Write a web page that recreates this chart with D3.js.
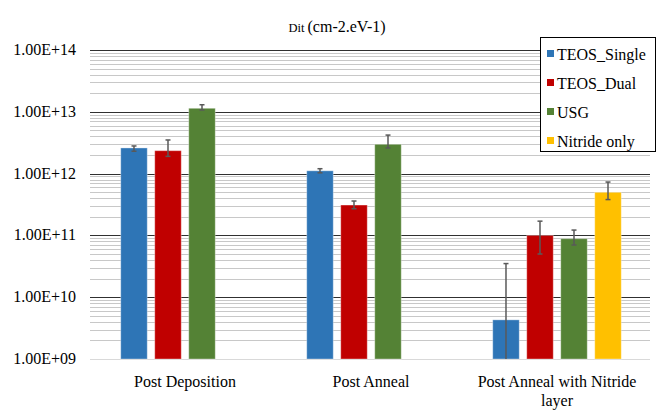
<!DOCTYPE html>
<html>
<head>
<meta charset="utf-8">
<script src="https://cdn.jsdelivr.net/npm/d3@7"></script>
</head>
<body style="margin:0">
<svg id="chart" width="666" height="416"></svg>
<script>
// Dit per process step, log axis
const categories = ["Post Deposition", "Post Anneal", "Post Anneal with Nitride layer"];
const series = ["TEOS_Single", "TEOS_Dual", "USG", "Nitride only"];
const colors = ["#2E75B6", "#C00000", "#548235", "#FFC000"];

const teosSingle = [2.6e12, 1.11e12, 4.3e9];
const teosDual = [2.35e12, 3.1e11, 1.0e11];
const usg = [1.14e13, 2.98e12, 8.85e10];
const nitrideOnly = [null, null, 4.98e11];

// error bar ends (upper / lower)
const errHigh = [
  [2.8e12, 1.2e12, 3.5e10],
  [3.5e12, 3.6e11, 1.7e11],
  [1.3e13, 4.2e12, 1.22e11],
  [null, null, 7.3e11]
];
const errLow = [
  [2.3e12, 1.03e12, 0],
  [1.9e12, 2.7e11, 5.0e10],
  [1.07e13, 2.6e12, 7.0e10],
  [null, null, 3.8e11]
];

const yTicks = [1e9, 1e10, 1e11, 1e12, 1e13, 1e14];

const values = [teosSingle, teosDual, usg, nitrideOnly];
const bars = [];
series.forEach((s, si) => {
  categories.forEach((c, ci) => {
    if (values[si][ci] == null) return;
    bars.push({ series: s, si, cat: c, value: values[si][ci], hi: errHigh[si][ci], lo: errLow[si][ci] });
  });
});

const svg = d3.select("#chart");
const plotLeft = 92, plotRight = 650, plotTop = 50, plotBottom = 359;

const y = d3.scaleLog().domain([1e9, 1e14]).range([plotBottom, plotTop]);
const x0 = d3.scaleBand().domain(categories).range([plotLeft, plotRight]);
const x1 = d3.scaleBand().domain(series).range([0, x0.bandwidth()])
  .paddingInner(0.22).paddingOuter(0.845);

// serif text, same as in the original office chart
function serif(sel, size) {
  sel.style("font-family", '"Liberation Serif"').style("font-size", size || "16px");
}

// gridlines
const minor = [];
for (let d = 9; d < 14; d++) {
  for (let k = 2; k <= 9; k++) minor.push(k * Math.pow(10, d));
}
svg.append("g").selectAll("line")
  .data(minor)
  .enter().append("line")
    .attr("x1", plotLeft - 2).attr("x2", plotRight)
    .attr("y1", d => Math.round(y(d)) + 0.5)
    .attr("y2", d => Math.round(y(d)) + 0.5)
    .attr("stroke", "#c8c8c8")
    .attr("stroke-width", 1);

svg.append("g").selectAll("line")
  .data(yTicks)
  .enter().append("line")
    .attr("x1", plotLeft - 2).attr("x2", plotRight)
    .attr("y1", d => Math.round(y(d)) + 0.5)
    .attr("y2", d => Math.round(y(d)) + 0.5)
    .attr("stroke", d => d === 1e9 ? "#d9d9d9" : "#303030")
    .attr("stroke-width", 1);

// y labels
svg.append("g").selectAll("text")
  .data(yTicks)
  .enter().append("text")
    .call(serif)
    .attr("x", 76)
    .attr("y", d => y(d) + 5)
    .attr("text-anchor", "end")
    .attr("fill", "#000")
    .text(d => {
      const e = Math.round(Math.log10(d));
      return "1.00E+" + (e < 10 ? "0" + e : e);
    });

// bars
svg.append("g").selectAll("rect")
  .data(bars)
  .enter().append("rect")
    .attr("x", d => x0(d.cat) + x1(d.series))
    .attr("y", d => y(d.value))
    .attr("width", x1.bandwidth())
    .attr("height", d => y(1e9) - y(d.value))
    .attr("fill", d => colors[d.si])
    .attr("stroke", "#ffffff")
    .attr("stroke-opacity", 0.35)
    .attr("stroke-width", 1);

// error bars
const eb = svg.append("g").selectAll("g")
  .data(bars)
  .enter().append("g")
    .attr("transform", d => `translate(${x0(d.cat) + x1(d.series) + x1.bandwidth() / 2},0)`);
eb.append("line")
  .attr("y1", d => y(d.hi))
  .attr("y2", d => y(Math.max(d.lo, 1e9)))
  .attr("stroke", "#595959").attr("stroke-width", 1.5);
eb.append("line")
  .attr("x1", -2.5).attr("x2", 2.5)
  .attr("y1", d => y(d.hi)).attr("y2", d => y(d.hi))
  .attr("stroke", "#595959").attr("stroke-width", 1.5);
eb.filter(d => d.lo > 1e9).append("line")
  .attr("x1", -2.5).attr("x2", 2.5)
  .attr("y1", d => y(d.lo)).attr("y2", d => y(d.lo))
  .attr("stroke", "#595959").attr("stroke-width", 1.5);

// x labels (wrapped)
function wrap(textSel, width) {
  textSel.each(function () {
    const text = d3.select(this);
    const words = text.text().split(/\s+/);
    const xx = text.attr("x"), yy = +text.attr("y");
    text.text(null);
    let line = [], lineNo = 0;
    let tspan = text.append("tspan").attr("x", xx).attr("y", yy);
    words.forEach(w => {
      line.push(w);
      tspan.text(line.join(" "));
      if (tspan.node().getComputedTextLength() > width && line.length > 1) {
        line.pop();
        tspan.text(line.join(" "));
        line = [w];
        lineNo++;
        tspan = text.append("tspan").attr("x", xx).attr("y", yy + lineNo * 19).text(w);
      }
    });
  });
}

svg.append("g").selectAll("text")
  .data(categories)
  .enter().append("text")
    .call(serif)
    .attr("x", d => x0(d) + x0.bandwidth() / 2)
    .attr("y", 387)
    .attr("text-anchor", "middle")
    .attr("fill", "#000")
    .text(d => d)
    .call(wrap, 175);

// title
const title = svg.append("text")
  .call(serif)
  .attr("x", 337)
  .attr("y", 32)
  .attr("text-anchor", "middle")
  .attr("fill", "#000");
title.append("tspan").style("font-size", "12.5px").text("Dit ");
title.append("tspan").style("font-size", "16px").text("(cm-2.eV-1)");

// legend
const lg = svg.append("g").attr("transform", "translate(540,37)");
lg.append("rect")
  .attr("width", 115).attr("height", 114)
  .attr("fill", "#fff")
  .attr("stroke", "#000").attr("stroke-width", 1)
  .attr("shape-rendering", "crispEdges");
const rows = lg.selectAll("g.row")
  .data(series)
  .enter().append("g")
    .attr("class", "row")
    .attr("transform", (d, i) => `translate(0, ${17 + i * 29})`);
rows.append("rect")
  .attr("x", 7).attr("y", -4)
  .attr("width", 7).attr("height", 7)
  .attr("fill", (d, i) => colors[i]);
rows.append("text")
  .call(serif)
  .attr("x", 17).attr("y", 5.5)
  .attr("fill", "#000")
  .text(d => d);
</script>
</body>
</html>
